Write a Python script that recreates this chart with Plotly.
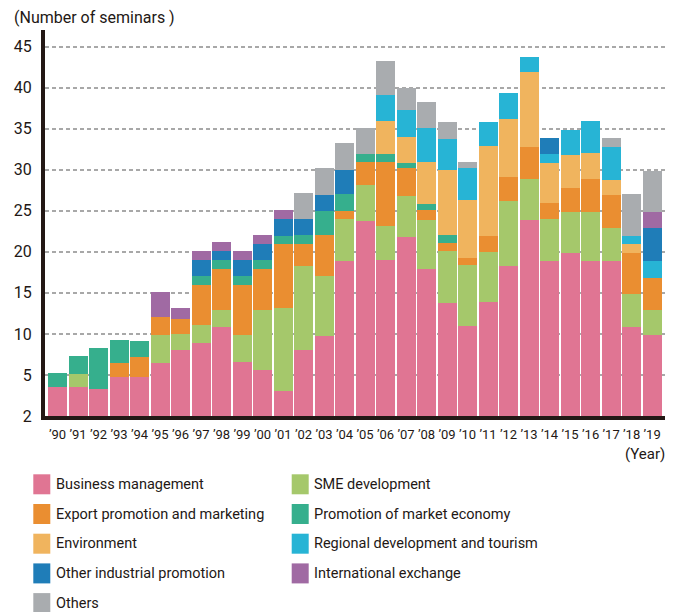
import plotly.graph_objects as go

years = ["’90","’91","’92","’93","’94","’95","’96","’97","’98","’99",
         "’00","’01","’02","’03","’04","’05","’06","’07","’08","’09",
         "’10","’11","’12","’13","’14","’15","’16","’17","’18","’19"]

business = [3.5, 3.5, 3.3, 4.8, 4.8, 6.5, 8.0, 8.9, 10.9, 6.6,
            5.6, 3.1, 8.0, 9.8, 18.9, 23.7, 19.0, 21.8, 17.9, 13.8,
            11.0, 13.9, 18.3, 23.9, 18.9, 19.8, 18.9, 18.9, 10.9, 9.9]
sme = [0, 1.6, 0, 0, 0, 3.4, 2.0, 2.2, 2.0, 3.3,
       7.3, 10.1, 10.3, 7.3, 5.1, 4.5, 4.2, 5.0, 6.0, 6.3,
       7.4, 6.1, 7.9, 5.0, 5.1, 5.0, 6.0, 4.0, 4.0, 3.0]
export = [0, 0, 0, 1.6, 2.4, 2.2, 1.8, 4.9, 5.0, 6.1,
          5.0, 7.7, 2.6, 5.0, 1.0, 2.8, 7.8, 3.4, 1.2, 1.0,
          0.8, 1.9, 2.9, 3.9, 1.9, 3.0, 4.0, 4.0, 5.0, 3.9]
market = [1.7, 2.2, 5.0, 2.8, 1.9, 0, 0, 1.1, 1.1, 1.1,
          1.1, 1.0, 1.1, 2.9, 2.1, 0.9, 0.9, 0.6, 0.7, 1.0,
          0, 0, 0, 0, 0, 0, 0, 0, 0, 0]
environment = [0, 0, 0, 0, 0, 0, 0, 0, 0, 0,
               0, 0, 0, 0, 0, 0, 4.0, 3.2, 5.2, 7.9,
               7.1, 11.0, 7.1, 9.1, 4.9, 4.0, 3.1, 1.9, 1.0, 0]
regional = [0, 0, 0, 0, 0, 0, 0, 0, 0, 0,
            0, 0, 0, 0, 0, 0, 3.2, 3.3, 4.1, 3.7,
            3.9, 2.9, 3.2, 1.9, 1.1, 3.0, 4.0, 4.0, 1.0, 2.1]
other_ind = [0, 0, 0, 0, 0, 0, 0, 1.9, 1.1, 1.9,
             1.9, 2.1, 2.0, 1.9, 2.9, 0, 0, 0, 0, 0,
             0, 0, 0, 0, 2.0, 0, 0, 0, 0, 4.0]
international = [0, 0, 0, 0, 0, 3.0, 1.3, 1.1, 1.1, 1.1,
                 1.1, 1.1, 0, 0, 0, 0, 0, 0, 0, 0,
                 0, 0, 0, 0, 0, 0, 0, 0, 0, 1.9]
others = [0, 0, 0, 0, 0, 0, 0, 0, 0, 0,
          0, 0, 3.2, 3.3, 3.3, 3.2, 4.1, 2.7, 3.1, 2.1,
          0.7, 0, 0, 0, 0, 0, 0, 1.1, 5.1, 5.1]

y_tickvals = [0, 5, 10, 15, 20, 25, 30, 35, 40, 45]
y_ticktext = ["2", "5", "10", "15", "20", "25", "30", "35", "40", "45"]

names = ["Business management", "SME development", "Export promotion and marketing",
         "Promotion of market economy", "Environment", "Regional development and tourism",
         "Other industrial promotion", "International exchange", "Others"]
colors = ["#E07593", "#A5C86B", "#EA8E31", "#36AF8D", "#F0B45E", "#27B4D5",
          "#1F7DB8", "#A06AA3", "#A9ACAF"]
values = [business, sme, export, market, environment, regional, other_ind, international, others]

FONT = "Roboto, sans-serif"
TXT = "#231815"

# page has an 8px default body margin; figure sized to fill the rest of the window
OFF = 8
W, H = 680 - OFF, 612 - OFF
ML, MR, MT, MB = 37, 15, 22, 196
PW, PH = W - ML - MR, H - MT - MB


def px_x(px):
    return (px - OFF - ML) / PW


def px_y(py):
    return (H - MB - (py - OFF)) / PH


fig = go.Figure()
xs = list(range(len(years)))
for name, vals, col in zip(names, values, colors):
    fig.add_trace(go.Bar(x=xs, y=vals, name=name,
                         marker=dict(color=col, line=dict(width=0))))

# two-column legend, row-wise order
shapes = []
annotations = []
col_sw_x = [33.3, 291.7]
col_tx_x = [54, 312]
row_top0, row_step = 474.3, 29.7
for i, (name, col) in enumerate(zip(names, colors)):
    c, r = i % 2, i // 2
    top = row_top0 + r * row_step
    shapes.append(dict(type="rect", xref="paper", yref="paper",
                       x0=px_x(col_sw_x[c]), x1=px_x(col_sw_x[c] + 17),
                       y0=px_y(top + 20), y1=px_y(top),
                       fillcolor=col, line=dict(width=0), layer="above"))
    annotations.append(dict(text=name, xref="paper", yref="paper",
                            x=px_x(col_tx_x[c]), y=px_y(top + 10),
                            xanchor="left", yanchor="middle", showarrow=False,
                            font=dict(size=14.5, family=FONT, color=TXT)))

annotations.append(dict(text="(Number of seminars )", xref="paper", yref="paper",
                        x=px_x(12), y=px_y(18), xanchor="left", yanchor="middle",
                        showarrow=False, font=dict(size=16, family=FONT, color=TXT)))
annotations.append(dict(text="(Year)", xref="paper", yref="paper",
                        x=px_x(667), y=px_y(454), xanchor="right", yanchor="middle",
                        showarrow=False, font=dict(size=15, family=FONT, color=TXT)))

fig.update_layout(
    width=W, height=H,
    margin=dict(l=ML, r=MR, t=MT, b=MB),
    plot_bgcolor="white", paper_bgcolor="white",
    barmode="stack", bargap=0.073,
    font=dict(family=FONT, color=TXT),
    showlegend=False,
    xaxis=dict(range=[-0.61, 29.63], tickmode="array", tickvals=xs, ticktext=years,
               tickangle=0, automargin=False,
               showline=True, linewidth=4, linecolor=TXT, showgrid=False, zeroline=False,
               ticks="", tickfont=dict(size=13, family=FONT, color=TXT), ticklabelstandoff=3),
    yaxis=dict(range=[0, 47.03], tickmode="array", tickvals=y_tickvals, ticktext=y_ticktext,
               automargin=False,
               showline=True, linewidth=4, linecolor=TXT, showgrid=True, gridcolor="#A8A8A8",
               gridwidth=1.5, griddash="4px,3px", zeroline=False, ticks="",
               tickfont=dict(size=16, family=FONT, color=TXT), ticklabelstandoff=6),
    shapes=shapes,
    annotations=annotations,
)

fig.write_html("out.html")
